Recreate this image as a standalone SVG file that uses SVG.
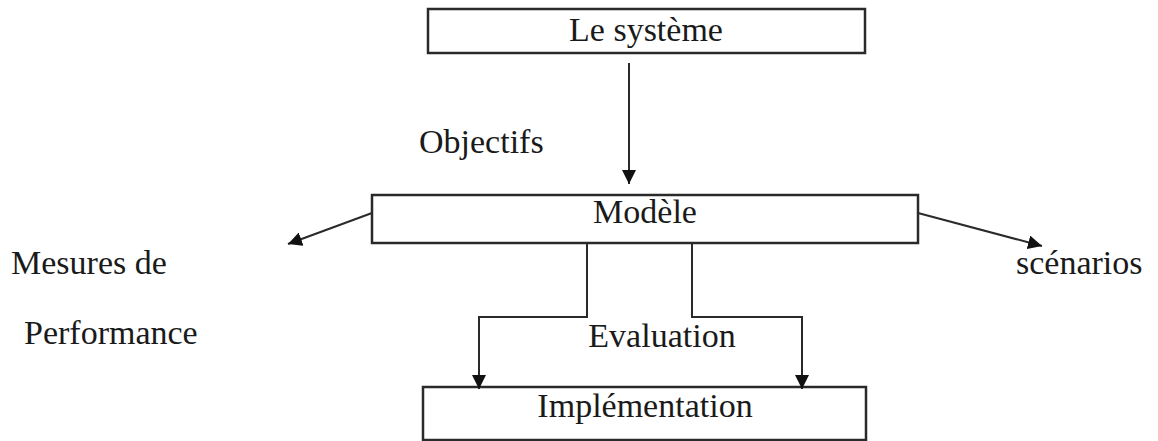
<svg xmlns="http://www.w3.org/2000/svg" width="1158" height="441" viewBox="0 0 1158 441">
  <style>
    .box { fill: #ffffff; stroke: #2a2a2a; stroke-width: 2.5; }
    .lbl { font-family: "Liberation Serif", "Times New Roman", serif; font-size: 34px; fill: #1a1a1a; }
    .mid { text-anchor: middle; }
    .link { fill: none; stroke: #2a2a2a; stroke-width: 2; }
  </style>
  <defs>
    <marker id="arrow" viewBox="0 0 14 14" refX="14" refY="7" markerWidth="14" markerHeight="14" markerUnits="userSpaceOnUse" orient="auto">
      <path d="M0,0 L14,7 L0,14 Z" fill="#111111"/>
    </marker>
  </defs>

  <g id="node-systeme">
    <rect class="box" x="428" y="9" width="437" height="44"/>
    <text class="lbl mid" x="646" y="41">Le système</text>
  </g>

  <g id="node-modele">
    <rect class="box" x="372" y="195" width="546" height="48"/>
    <text class="lbl mid" x="645" y="223">Modèle</text>
  </g>

  <g id="node-implementation">
    <rect class="box" x="423" y="387" width="443" height="53"/>
    <text class="lbl mid" x="645" y="417">Implémentation</text>
  </g>

  <g id="connectors">
    <line class="link" x1="629" y1="63" x2="629" y2="184" marker-end="url(#arrow)"/>
    <line class="link" x1="372" y1="213" x2="288" y2="244" marker-end="url(#arrow)"/>
    <line class="link" x1="918" y1="213" x2="1042" y2="246" marker-end="url(#arrow)"/>
    <polyline class="link" points="587,243 587,317 479,317 479,389" marker-end="url(#arrow)"/>
    <polyline class="link" points="692,243 692,317 802,317 802,389" marker-end="url(#arrow)"/>
  </g>

  <g id="labels">
    <text class="lbl" x="419" y="153">Objectifs</text>
    <text class="lbl" x="11" y="274">Mesures de</text>
    <text class="lbl" x="24" y="344">Performance</text>
    <text class="lbl" x="1016" y="274">scénarios</text>
    <text class="lbl mid" x="662" y="347">Evaluation</text>
  </g>
</svg>
